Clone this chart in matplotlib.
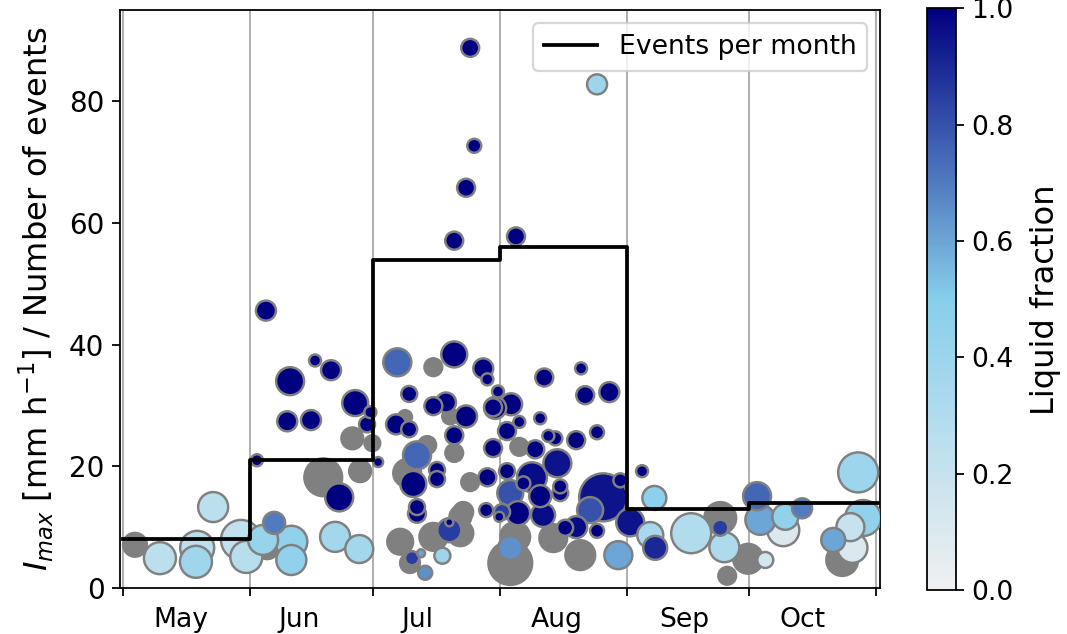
import datetime
import numpy as np
import matplotlib
matplotlib.use("Agg")
import matplotlib.pyplot as plt
from matplotlib.colors import LinearSegmentedColormap, Normalize
from matplotlib.cm import ScalarMappable

plt.rcParams['font.size'] = 12

# event data: day since 1 May, peak intensity, marker size, liquid fraction (nan = unknown)
event_day = [2.9, 9.0, 18.1, 17.8, 22.0, 28.8, 30.1,
             34.9, 46.9, 50.8, 40.8, 56.7, 60.4, 59.6, 40.1, 45.9, 56.0, 60.9, 32.7, 48.9, 57.9,
             52.8, 62.3, 36.9, 41.1, 41.1, 34.2, 35.2, 51.8, 57.7,
             67.0, 75.8, 80.9, 88.0, 89.0, 69.9, 75.8, 78.9, 79.9, 83.8, 80.9, 80.9, 66.7, 69.9,
             68.9, 90.4, 71.8, 74.3, 76.7, 76.7, 70.9, 69.4, 84.8, 89.0, 71.8, 71.8, 83.1, 88.7,
             79.7, 79.7, 67.7, 75.8, 82.4, 82.4, 70.6, 72.8, 78.0, 73.8, 70.1,
             84.8, 85.8, 83.8, 80.9, 96.0, 115.8,
             102.9, 111.9, 112.9, 118.8, 91.6, 94.8, 90.9, 96.8, 101.9, 93.8, 103.9, 105.6, 110.7,
             115.8, 96.8, 100.7, 90.4, 106.1, 93.8, 99.9, 97.8, 106.8, 106.8, 101.9, 117.3, 121.5,
             94.6, 92.6, 91.9, 96.5, 102.6, 110.7, 108.0, 115.8, 95.8, 105.1, 111.7, 94.6, 94.6,
             114.1, 121.0, 123.9,
             126.8, 129.8, 128.8, 130.0, 138.8, 145.9, 145.9, 146.9, 147.6, 152.7, 156.9,
             154.9, 155.7, 161.3, 161.8, 165.9, 173.5, 175.7, 178.2, 177.7, 180.8, 179.6]
imax = [7.1, 4.9, 6.6, 4.3, 13.3, 7.9, 5.1,
        45.6, 37.4, 35.8, 34.0, 30.4, 28.9, 26.9, 27.4, 27.6, 24.6, 23.8, 21.0, 18.2, 19.2,
        14.9, 20.7, 10.7, 7.6, 4.6, 7.9, 6.7, 8.4, 6.4,
        37.1, 36.3, 38.4, 36.1, 34.3, 31.9, 29.9, 30.5, 28.2, 28.2, 25.1, 22.2, 26.9, 26.1,
        28.1, 29.7, 21.8, 23.5, 19.4, 17.9, 17.1, 18.9, 17.4, 18.2, 13.3, 12.2, 12.5, 12.8,
        9.5, 10.8, 7.6, 8.4, 11.7, 9.0, 4.9, 5.7, 5.3, 2.5, 4.1,
        88.8, 72.7, 65.8, 57.1, 57.8, 82.8,
        34.6, 36.1, 31.7, 32.2, 32.3, 30.2, 29.6, 27.3, 27.9, 25.8, 25.0, 24.6, 24.3,
        25.6, 23.2, 22.8, 23.0, 20.5, 19.2, 18.2, 17.2, 16.7, 15.6, 15.1, 14.9, 17.7,
        15.6, 12.5, 11.7, 12.3, 12.0, 10.0, 9.9, 9.4, 8.4, 8.2, 5.4, 6.6, 4.1,
        12.8, 5.4, 10.8,
        19.2, 14.8, 8.7, 6.6, 9.0, 11.5, 9.9, 6.7, 2.0, 4.8, 4.6,
        15.1, 11.2, 9.5, 11.7, 13.1, 7.9, 4.6, 6.6, 10.0, 11.5, 19.0]
event_size = [12, 16, 17, 16, 15, 20, 16,
              10, 6, 10, 14, 13, 6, 8, 10, 10, 11, 8, 6, 19, 11,
              14, 5, 11, 16, 15, 15, 12, 15, 14,
              14, 9, 13, 10, 6, 8, 9, 10, 8, 11, 9, 9, 10, 8,
              7, 9, 14, 9, 8, 8, 13, 14, 9, 9, 8, 9, 10, 7,
              12, 4, 13, 14, 11, 13, 7, 4, 8, 7, 10,
              9, 7, 9, 9, 9, 10,
              9, 6, 9, 10, 6, 11, 11, 6, 6, 9, 6, 7, 9,
              7, 9, 9, 9, 14, 8, 15, 7, 7, 8, 11, 24, 7,
              13, 8, 5, 12, 12, 11, 8, 7, 15, 14, 15, 12, 22,
              13, 14, 14,
              6, 12, 13, 12, 20, 16, 8, 15, 9, 15, 8,
              14, 15, 16, 13, 10, 12, 16, 15, 14, 18, 20]
nan = float('nan')
liquid_frac = [nan, 0.25, 0.25, 0.38, 0.25, 0.22, 0.27,
               1.0, 1.0, 1.0, 1.0, 1.0, 1.0, 1.0, 1.0, 1.0, nan, nan, 1.0, nan, nan,
               1.0, 1.0, 0.7, 0.45, 0.45, 0.42, nan, 0.37, 0.37,
               0.75, nan, 1.0, 1.0, 1.0, 1.0, 1.0, 1.0, nan, 1.0, 1.0, nan, 1.0, 1.0,
               nan, 1.0, 0.75, nan, 1.0, 1.0, 1.0, nan, nan, 1.0, 1.0, 1.0, nan, 1.0,
               0.85, 1.0, nan, nan, nan, nan, 0.85, 0.6, 0.4, 0.65, nan,
               1.0, 1.0, 1.0, 1.0, 1.0, 0.4,
               1.0, 1.0, 1.0, 1.0, 1.0, 1.0, 1.0, 1.0, 1.0, 1.0, 1.0, 1.0, 1.0,
               1.0, nan, 1.0, 1.0, 0.95, 1.0, 0.97, 1.0, 1.0, 1.0, 1.0, 0.95, 1.0,
               0.8, 0.85, 1.0, 1.0, 0.97, 0.97, 1.0, 1.0, nan, nan, nan, 0.65, nan,
               0.8, 0.6, 0.95,
               1.0, 0.47, 0.35, 0.9, 0.3, nan, 0.85, 0.32, nan, nan, 0.15,
               0.75, 0.6, 0.1, 0.45, 0.7, 0.6, nan, 0.1, 0.2, 0.45, 0.4]

months = ['May', 'Jun', 'Jul', 'Aug', 'Sep', 'Oct']
month_start = ['2019-05-01', '2019-06-01', '2019-07-01', '2019-08-01',
               '2019-09-01', '2019-10-01', '2019-11-01']
label_day = [15, 13, 12, 15, 15, 14]
events_per_month = [8, 21, 54, 56, 13, 14]

base = datetime.datetime(2019, 5, 1)
dates = np.array([base + datetime.timedelta(days=d) for d in event_day])
imax = np.array(imax)
event_size = np.array(event_size, dtype=float)
liquid_frac = np.array(liquid_frac)
starts = [datetime.datetime.strptime(m, '%Y-%m-%d') for m in month_start]
xmin = datetime.datetime(2019, 4, 30, 6)
xmax = datetime.datetime(2019, 11, 2)

cmap = LinearSegmentedColormap.from_list('liq', ['#f0f0f0', 'skyblue', 'navy'])
norm = Normalize(0, 1)

fig = plt.figure(figsize=(1067 / 160, 634 / 160), dpi=160)
ax = fig.add_axes([0.1125, 0.0726, 0.7125, 0.9114])
cax = fig.add_axes([0.869, 0.069, 0.027, 0.918])

unk = np.isnan(liquid_frac)
ax.scatter(dates[unk], imax[unk], s=0.81 * event_size[unk] ** 2,
           color='#808080', edgecolors='#808080', linewidths=1.0, zorder=2)
known = np.where(~unk)[0]
known = known[np.argsort(-event_size[known], kind='stable')]
ax.scatter(dates[known], imax[known], s=0.81 * event_size[known] ** 2,
           c=liquid_frac[known], cmap=cmap, norm=norm,
           edgecolors='#808080', linewidths=1.1, zorder=3)

step_x = starts[:-1] + [xmax]
step_y = events_per_month + [events_per_month[-1]]
ax.step(step_x, step_y, where='post', color='black', lw=1.7, zorder=4,
        label='Events per month')

ax.set_xlim(xmin, xmax)
ax.set_ylim(0, 95)
ax.set_yticks([0, 20, 40, 60, 80])
ax.set_xticks(starts)
ax.set_xticklabels([''] * len(starts))
mids = [s + datetime.timedelta(days=d - 1) for s, d in zip(starts[:-1], label_day)]
ax.set_xticks(mids, minor=True)
ax.set_xticklabels(months, minor=True)
ax.tick_params(axis='x', which='minor', length=0, pad=8.5)
ax.tick_params(axis='y', labelsize=12.5)
ax.grid(True, axis='x', which='major', color='#b0b0b0', lw=0.9, zorder=0)
ax.set_axisbelow(True)
ax.set_ylabel(r'$I_{max}$ [mm h$^{-1}$] / Number of events', fontsize=14.5, labelpad=6)
ax.legend(loc='upper right')

cb = fig.colorbar(ScalarMappable(norm=norm, cmap=cmap), cax=cax)
cb.set_ticks([0, 0.2, 0.4, 0.6, 0.8, 1.0])
cb.set_label('Liquid fraction', fontsize=14.5, labelpad=7)

fig.savefig('out.png', dpi=160)
